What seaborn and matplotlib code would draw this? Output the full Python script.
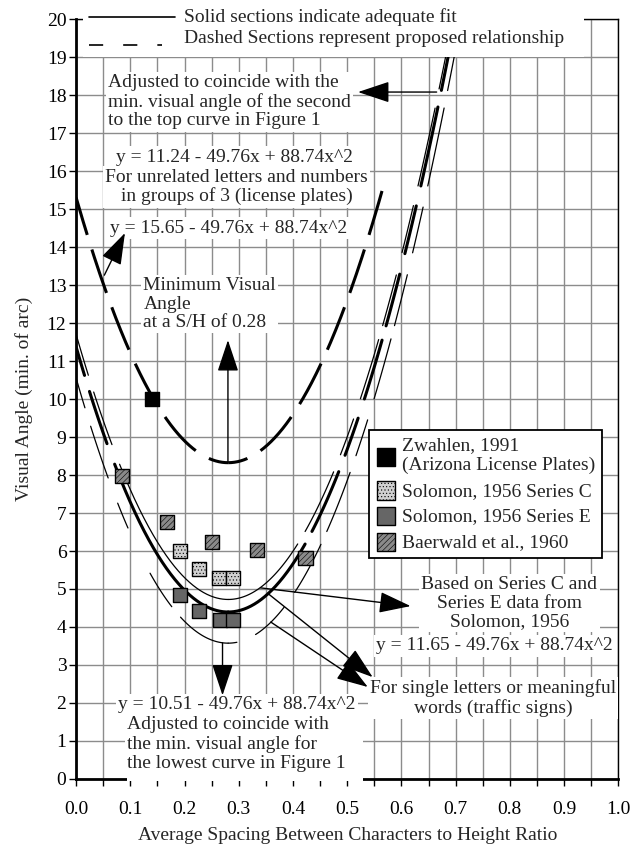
import numpy as np
import pandas as pd
import matplotlib
matplotlib.use('Agg')
import matplotlib.pyplot as plt
import seaborn as sns
from matplotlib.patches import Rectangle

# quadratic fits y = c + b*x + a*x^2 (intercepts)
curve_c = [15.30, 11.70, 11.37, 10.55]
curve_b = [-49.76, -49.76, -49.76, -49.76]
curve_a = [88.74, 88.74, 88.74, 88.74]
curve_xmax = [0.57, 0.70, 0.70, 0.71]

zwahlen_x = [0.14]
zwahlen_y = [10.0]
solC_x = [0.192, 0.227, 0.264, 0.290]
solC_y = [6.00, 5.53, 5.29, 5.29]
solE_x = [0.192, 0.227, 0.266, 0.290]
solE_y = [4.84, 4.42, 4.18, 4.18]
baer_x = [0.085, 0.168, 0.251, 0.333, 0.423]
baer_y = [7.97, 6.76, 6.24, 6.03, 5.82]

legend_labels = ['Zwahlen, 1991\n(Arizona License Plates)', 'Solomon, 1956 Series C',
                 'Solomon, 1956 Series E', 'Baerwald et al., 1960']

# breaks in the "proposed" (dashed) parts, as y bands per branch
pair_left_gaps = [(8.3, 8.8), (10.2, 10.6)]
low_left_gaps = [(4.26, 4.53), (5.42, 6.6), (7.26, 7.9), (9.3, 9.76)]
right_gaps = [(6.2, 6.5), (8.1, 8.5), (9.5, 10.0), (11.6, 11.9), (13.3, 13.8),
              (15.1, 15.6), (17.7, 18.1)]
low_right_gaps = [(3.6, 3.8), (4.53, 4.9)] + right_gaps

sns.set_theme(style='ticks')
plt.rcParams['font.family'] = ['Liberation Serif', 'DejaVu Serif']
plt.rcParams['hatch.linewidth'] = 0.4

fig = plt.figure(figsize=(6.4, 8.49), dpi=100)
ax = fig.add_axes([0.119, 0.0825, 0.847, 0.895])
ax.set_xlim(0, 1.0)
ax.set_ylim(0, 20)

ax.set_xticks(np.arange(0, 1.01, 0.1))
ax.set_xticks(np.arange(0.05, 1.0, 0.1), minor=True)
ax.set_xticklabels(['%.1f' % v for v in np.arange(0, 1.01, 0.1)])
ax.set_yticks(range(0, 21))
ax.grid(True, which='both', color='#8c8c8c', lw=1.0)
ax.set_axisbelow(True)
ax.tick_params(axis='both', which='both', direction='out', length=5, width=1,
               color='black', labelsize=14, labelcolor='black')
ax.tick_params(axis='x', pad=11)
ax.tick_params(axis='y', pad=2)
for s in ['left', 'bottom']:
    ax.spines[s].set_linewidth(2.0)
for s in ['top', 'right']:
    ax.spines[s].set_linewidth(1.0)
for s in ax.spines.values():
    s.set_color('black')

ax.set_xlabel('Average Spacing Between Characters to Height Ratio', fontsize=14, labelpad=6)
ax.set_ylabel('Visual Angle (min. of arc)', fontsize=14, labelpad=10)

vertex = -curve_b[0] / (2 * curve_a[0])


def curve(i, x0, x1, n=400):
    xs = np.linspace(x0, x1, n)
    return xs, curve_c[i] + curve_b[i] * xs + curve_a[i] * xs ** 2


def draw_gapped(i, x0, x1, gaps, lw):
    xs, ys = curve(i, x0, x1)
    on = ys <= 19.3
    for lo, hi in gaps:
        on &= ~((ys > lo) & (ys < hi))
    idx = np.flatnonzero(on)
    if idx.size == 0:
        return
    runs = np.split(idx, np.flatnonzero(np.diff(idx) > 1) + 1)
    for r in runs:
        if r.size > 1:
            sns.lineplot(x=xs[r], y=ys[r], ax=ax, color='black', lw=lw, sort=False)


# top curve (license plates): thick dashes centred on the vertex
for x0, x1 in [(vertex, 0.0), (vertex, curve_xmax[0])]:
    xs, ys = curve(0, x0, x1)
    sns.lineplot(x=xs, y=ys, ax=ax, color='black', lw=2.2, sort=False,
                 linestyle=(8.5, (15, 5)))

# Series C/E fit (thin) and traffic sign curve (thick); lowest curve thin
for i, w in [(1, 0.9), (2, 2.2)]:
    draw_gapped(i, 0.0, vertex, pair_left_gaps, w)
    draw_gapped(i, vertex, curve_xmax[i], right_gaps, w)
draw_gapped(3, 0.0, vertex, low_left_gaps, 0.9)
draw_gapped(3, vertex, curve_xmax[3], low_right_gaps, 0.9)

# data points
series = [(zwahlen_x, zwahlen_y, 'black', None),
          (solC_x, solC_y, '#d0d0d0', '.....'),
          (solE_x, solE_y, '#666666', None),
          (baer_x, baer_y, '#8a8a8a', '//////')]
handles = []
for xs, ys, col, hatch in series:
    sns.scatterplot(x=xs, y=ys, ax=ax, marker='s', s=105, color=col,
                    edgecolor='black', linewidth=1.0, zorder=6)
    coll = ax.collections[-1]
    if hatch:
        coll.set_hatch(hatch)
    handles.append(coll)

leg = ax.legend(handles, legend_labels, loc='upper left', bbox_to_anchor=(0.541, 0.459),
                fontsize=14, frameon=True, fancybox=False, framealpha=1,
                edgecolor='black', borderpad=0.35, handletextpad=0.3,
                labelspacing=0.42, handlelength=1.0, markerscale=1.3, borderaxespad=0)
leg.get_frame().set_linewidth(1.3)
leg.set_zorder(8)

# header box with line-style key
ax.add_patch(Rectangle((0.012, 19.0), 0.924, 1.7, facecolor='white', edgecolor='none',
                       zorder=4, clip_on=False))
ax.plot([0.024, 0.183], [20.05, 20.05], color='black', lw=1.2, zorder=5, clip_on=False)
ax.plot([0.024, 0.159], [19.32, 19.32], color='black', lw=1.2, zorder=5, clip_on=False,
        dashes=(8.5, 12))
ax.text(0.199, 20.05, 'Solid sections indicate adequate fit', fontsize=14, va='center',
        zorder=5)
ax.text(0.199, 19.5, 'Dashed Sections represent proposed relationship', fontsize=14,
        va='center', zorder=5)

# white patch behind the lower-left note (it hides grid and the x axis line)
ax.add_patch(Rectangle((0.094, -0.06), 0.435, 1.85, facecolor='white', edgecolor='none',
                       zorder=4, clip_on=False))

box = dict(facecolor='white', edgecolor='none', boxstyle='square,pad=0.12')


def label(x, y, s, ha='center', **kw):
    ax.text(x, y, s, fontsize=14, ha=ha, va='center', multialignment=ha, bbox=box,
            zorder=5, linespacing=1.12, **kw)


label(0.059, 17.82, 'Adjusted to coincide with the\nmin. visual angle of the second\n'
      'to the top curve in Figure 1', ha='left')
label(0.293, 16.37, 'y = 11.24 - 49.76x + 88.74x^2')
label(0.296, 15.58, 'For unrelated letters and numbers\nin groups of 3 (license plates)')
label(0.281, 14.50, 'y = 15.65 - 49.76x + 88.74x^2')
label(0.124, 12.50, 'Minimum Visual\nAngle\nat a S/H of 0.28', ha='left')
label(0.799, 4.63, 'Based on Series C and\nSeries E data from\nSolomon, 1956')
label(0.772, 3.50, 'y = 11.65 - 49.76x + 88.74x^2')
label(0.769, 2.13, 'For single letters or meaningful\nwords (traffic signs)')
label(0.078, 1.95, 'y = 10.51 - 49.76x + 88.74x^2', ha='left')
label(0.094, 0.92, 'Adjusted to coincide with\nthe min. visual angle for\n'
      'the lowest curve in Figure 1', ha='left')

arrow = dict(arrowstyle='-|>,head_length=1.65,head_width=0.55', color='black', lw=1.0,
             shrinkA=0, shrinkB=0)
for tail, head in [((0.665, 18.08), (0.52, 18.08)),
                   ((0.052, 13.26), (0.09, 14.37)),
                   ((0.28, 8.32), (0.28, 11.55)),
                   ((0.27, 3.58), (0.27, 2.20)),
                   ((0.34, 5.03), (0.617, 4.55)),
                   ((0.353, 4.89), (0.547, 2.68)),
                   ((0.359, 4.13), (0.538, 2.42))]:
    ax.annotate('', xy=head, xytext=tail, arrowprops=arrow, zorder=6)

fig.savefig('out.png', dpi=100)
